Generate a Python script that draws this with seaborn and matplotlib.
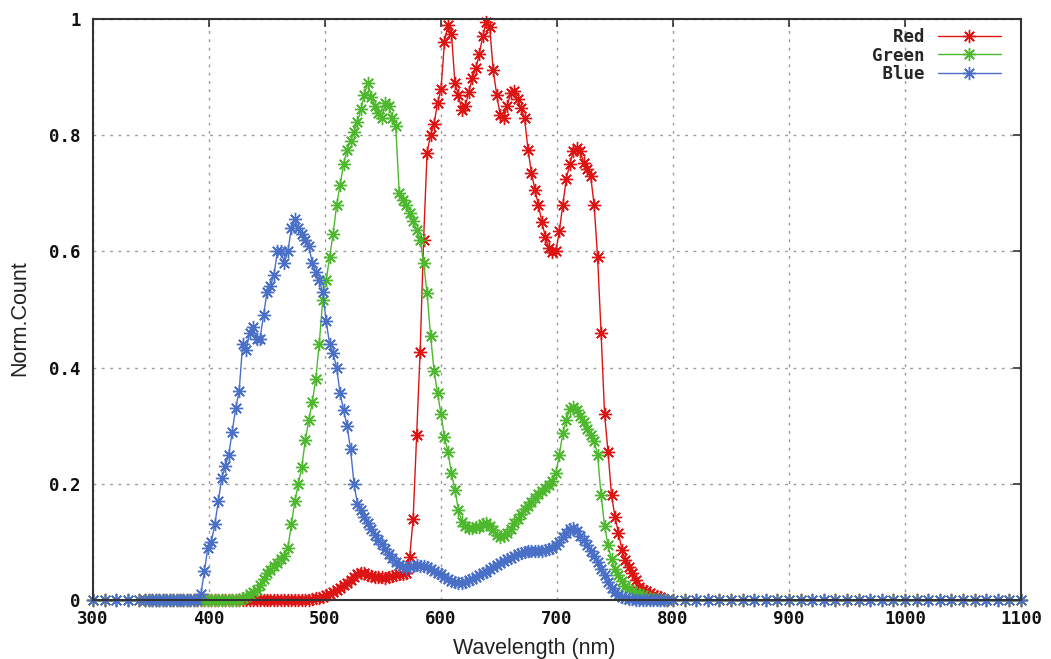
import numpy as np
import pandas as pd
import matplotlib
matplotlib.use("Agg")
import matplotlib.pyplot as plt
import seaborn as sns
from matplotlib.ticker import MultipleLocator, FuncFormatter

# Dense part of the spectrum: 345 .. 795 nm in 3 nm steps (151 samples)
dense_nm = np.arange(345, 796, 3)

# Sparse flat tails of the scan
lo_nm = [300, 310, 320, 330, 340]
lo_count = [0, 0, 0, 0, 0]
hi_nm = [800, 810, 820, 830, 840, 850, 860, 870, 880, 890, 900,
         910, 920, 930, 940, 950, 960, 970, 980, 990, 1000,
         1010, 1020, 1030, 1040, 1050, 1060, 1070, 1080, 1090, 1100]
hi_count = [0, 0, 0, 0, 0, 0, 0, 0, 0, 0, 0,
            0, 0, 0, 0, 0, 0, 0, 0, 0, 0,
            0, 0, 0, 0, 0, 0, 0, 0, 0, 0]

red = [
    0, 0, 0, 0, 0, 0, 0, 0, 0, 0,
    0, 0, 0, 0, 0, 0, 0, 0, 0, 0,
    0, 0, 0, 0, 0, 0, 0, 0, 0, 0,
    0, 0, 0, 0, 0, 0, 0, 0, 0, 0,
    0, 0, 0, 0, 0, 0, 0, 0, 0.002, 0.003,
    0.004, 0.006, 0.008, 0.011, 0.014, 0.017, 0.021, 0.026, 0.030, 0.034,
    0.040, 0.045, 0.047, 0.046, 0.043, 0.041, 0.040, 0.040, 0.039, 0.038,
    0.039, 0.041, 0.043, 0.044, 0.045, 0.047, 0.074, 0.140, 0.284, 0.427,
    0.620, 0.770, 0.800, 0.820, 0.855, 0.880, 0.960, 0.990, 0.975, 0.890,
    0.869, 0.843, 0.850, 0.875, 0.898, 0.915, 0.940, 0.970, 0.995, 0.986,
    0.912, 0.870, 0.835, 0.830, 0.850, 0.872, 0.876, 0.862, 0.846, 0.830,
    0.775, 0.735, 0.706, 0.680, 0.650, 0.625, 0.605, 0.599, 0.600, 0.635,
    0.680, 0.725, 0.750, 0.772, 0.778, 0.773, 0.752, 0.742, 0.730, 0.680,
    0.590, 0.460, 0.320, 0.255, 0.180, 0.143, 0.115, 0.086, 0.068, 0.056,
    0.046, 0.034, 0.022, 0.018, 0.015, 0.012, 0.009, 0.007, 0.005, 0.002,
    0,
]

green = [
    0, 0, 0, 0, 0, 0, 0, 0, 0, 0,
    0, 0, 0, 0, 0, 0, 0, 0, 0, 0,
    0, 0, 0, 0, 0, 0, 0, 0, 0.003, 0.006,
    0.010, 0.014, 0.018, 0.026, 0.036, 0.046, 0.052, 0.058, 0.064, 0.070,
    0.076, 0.090, 0.130, 0.170, 0.200, 0.229, 0.275, 0.310, 0.340, 0.380,
    0.440, 0.516, 0.550, 0.590, 0.630, 0.680, 0.714, 0.750, 0.775, 0.790,
    0.805, 0.823, 0.845, 0.870, 0.890, 0.866, 0.850, 0.838, 0.830, 0.855,
    0.850, 0.830, 0.815, 0.700, 0.688, 0.680, 0.666, 0.653, 0.637, 0.620,
    0.580, 0.528, 0.455, 0.395, 0.356, 0.320, 0.280, 0.255, 0.218, 0.190,
    0.155, 0.135, 0.128, 0.124, 0.124, 0.125, 0.126, 0.130, 0.132, 0.128,
    0.120, 0.112, 0.108, 0.110, 0.115, 0.123, 0.132, 0.140, 0.148, 0.156,
    0.162, 0.168, 0.175, 0.182, 0.188, 0.193, 0.198, 0.205, 0.218, 0.250,
    0.287, 0.310, 0.328, 0.332, 0.327, 0.317, 0.306, 0.295, 0.284, 0.274,
    0.250, 0.180, 0.128, 0.094, 0.070, 0.054, 0.043, 0.032, 0.024, 0.019,
    0.015, 0.012, 0.010, 0.008, 0.006, 0.004, 0.002, 0.001, 0, 0,
    0,
]

blue = [
    0, 0, 0, 0, 0, 0, 0, 0, 0, 0,
    0, 0, 0, 0, 0, 0, 0.010, 0.050, 0.090, 0.100,
    0.130, 0.170, 0.210, 0.230, 0.250, 0.290, 0.330, 0.360, 0.440, 0.430,
    0.460, 0.470, 0.450, 0.450, 0.490, 0.530, 0.540, 0.560, 0.600, 0.600,
    0.580, 0.600, 0.640, 0.655, 0.640, 0.630, 0.620, 0.610, 0.580, 0.565,
    0.550, 0.530, 0.480, 0.440, 0.425, 0.400, 0.356, 0.327, 0.300, 0.260,
    0.200, 0.165, 0.155, 0.143, 0.133, 0.122, 0.112, 0.104, 0.096, 0.088,
    0.080, 0.072, 0.066, 0.061, 0.058, 0.055, 0.056, 0.058, 0.060, 0.059,
    0.058, 0.056, 0.054, 0.050, 0.047, 0.044, 0.040, 0.036, 0.033, 0.031,
    0.029, 0.029, 0.031, 0.034, 0.037, 0.040, 0.043, 0.046, 0.049, 0.053,
    0.057, 0.061, 0.064, 0.067, 0.070, 0.073, 0.076, 0.079, 0.081, 0.083,
    0.084, 0.085, 0.085, 0.085, 0.085, 0.086, 0.087, 0.090, 0.095, 0.100,
    0.108, 0.116, 0.122, 0.124, 0.118, 0.111, 0.104, 0.094, 0.085, 0.076,
    0.065, 0.054, 0.043, 0.031, 0.020, 0.013, 0.008, 0.005, 0.003, 0.002,
    0.001, 0, 0, 0, 0, 0, 0, 0, 0, 0,
    0,
]

series_names = ["Red", "Green", "Blue"]
series_colors = ["#dc1414", "#4db82e", "#4a6fc7"]
legend_labels = ["  Red", "Green", " Blue"]

frames = []
for name, vals in zip(series_names, [red, green, blue]):
    wl = list(lo_nm) + list(dense_nm) + list(hi_nm)
    cnt = list(lo_count) + list(vals) + list(hi_count)
    frames.append(pd.DataFrame({"wavelength": wl, "count": cnt, "series": name}))
df = pd.concat(frames, ignore_index=True)

sns.set_theme(style="white")
plt.rcParams["font.family"] = ["Liberation Sans", "DejaVu Sans"]

fig = plt.figure(figsize=(10.51, 6.59), dpi=100)
ax = fig.add_axes([93 / 1051, 1 - 600 / 659, (1021 - 93) / 1051, (600 - 19) / 659])

sns.lineplot(
    data=df, x="wavelength", y="count", hue="series",
    hue_order=series_names, palette=dict(zip(series_names, series_colors)),
    estimator=None, sort=False, legend=False, ax=ax,
    marker=(8, 2, 0), markersize=9.5, linewidth=1.0, clip_on=False,
)
for line in ax.lines:
    line.set_markeredgecolor(line.get_color())
    line.set_markeredgewidth(1.0)

ax.set_xlim(300, 1100)
ax.set_ylim(0, 1)
ax.xaxis.set_major_locator(MultipleLocator(100))
ax.yaxis.set_major_locator(MultipleLocator(0.2))


def fmt_y(v, pos):
    if abs(v) < 1e-9:
        return "0"
    if abs(v - 1) < 1e-9:
        return "1"
    return f"{v:.1f}"


ax.yaxis.set_major_formatter(FuncFormatter(fmt_y))
ax.xaxis.set_major_formatter(FuncFormatter(lambda v, p: f"{int(round(v))}"))

for lab in ax.get_xticklabels() + ax.get_yticklabels():
    lab.set_fontfamily("DejaVu Sans Mono")
    lab.set_fontweight("bold")
    lab.set_fontsize(12.5)

ax.tick_params(axis="x", which="major", pad=7)
ax.tick_params(axis="y", which="major", pad=9)
ax.tick_params(axis="both", which="major", direction="in", length=6, width=1.2,
               color="#333333", top=True, right=True, labelcolor="#111111")

ax.grid(True, color="#9a9a9a", linestyle=(0, (2, 4)), linewidth=1.0)
ax.set_axisbelow(True)
for sp in ax.spines.values():
    sp.set_color("#333333")
    sp.set_linewidth(1.5)

ax.set_xlabel("Wavelength (nm)", fontsize=15.5, color="#222222")
ax.set_ylabel("Norm.Count", fontsize=15.5, color="#222222")
ax.xaxis.set_label_coords(0.476, -0.066)
ax.yaxis.set_label_coords(-0.068, 0.485)

leg = ax.legend(
    handles=ax.lines[:3], labels=legend_labels, loc="upper right",
    bbox_to_anchor=(0.995, 1.012), frameon=False, markerfirst=False,
    handlelength=3.6, handletextpad=0.8, labelspacing=0.05, numpoints=1,
    prop=dict(family="DejaVu Sans Mono", weight="bold", size=12.5),
)

fig.savefig("out.png", dpi=100, facecolor="white")
